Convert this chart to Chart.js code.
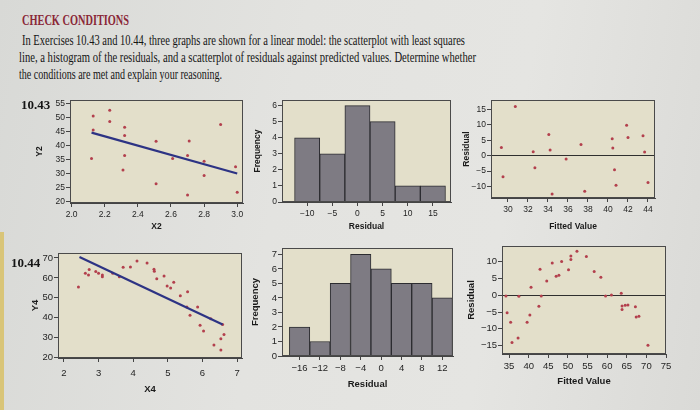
<!DOCTYPE html>
<html lang="en">
<head>
<meta charset="UTF-8">
<title>Check conditions</title>
<script src="https://cdn.jsdelivr.net/npm/chart.js"></script>
<style>
  html, body { margin: 0; padding: 0; }
  body {
    width: 700px; height: 410px; overflow: hidden; position: relative;
    background: linear-gradient(100deg, #d8d9d6 0%, #e3e3e0 40%, #e5e5e2 70%, #dadad7 100%);
    font-family: "Liberation Serif", serif; color: #151515;
  }
  .borda { position: absolute; left: 0; top: 232px; width: 4px; height: 178px; background: #d9c578; }
  .txt { position: absolute; white-space: nowrap; transform-origin: 0 50%; line-height: 1; }
  .cab { color: #8a2737; font-weight: bold; font-size: 14px; }
  .par { font-size: 14.5px; }
  .num { position: absolute; font-weight: bold; font-size: 13px; line-height: 1; white-space: nowrap; }
  .caixa { position: absolute; }
</style>
</head>
<body>
<div class="borda"></div>

<div class="txt cab" data-w="107" style="left:22px; top:13.5px;">CHECK CONDITIONS</div>
<div class="txt par" data-w="443" style="left:22px; top:33px;">In Exercises 10.43 and 10.44, three graphs are shown for a linear model: the scatterplot with least squares</div>
<div class="txt par" data-w="457" style="left:19px; top:50.25px;">line, a histogram of the residuals, and a scatterplot of residuals against predicted values. Determine whether</div>
<div class="txt par" data-w="203" style="left:19px; top:67px;">the conditions are met and explain your reasoning.</div>

<div class="caixa" id="b1"><canvas id="c1"></canvas></div>
<div class="caixa" id="b2"><canvas id="c2"></canvas></div>
<div class="caixa" id="b3"><canvas id="c3"></canvas></div>
<div class="caixa" id="b4"><canvas id="c4"></canvas></div>
<div class="caixa" id="b5"><canvas id="c5"></canvas></div>
<div class="caixa" id="b6"><canvas id="c6"></canvas></div>

<div class="num" style="left:21px; top:97.5px;">10.43</div>
<div class="num" style="left:11px; top:255.5px;">10.44</div>

<script>
    // ---- 10.43 ----
    var x2 = [2.12, 2.13, 2.13, 2.23, 2.23, 2.32, 2.32, 2.32, 2.31, 2.51, 2.51, 2.61, 2.71, 2.70, 2.70, 2.80, 2.80, 2.90, 2.99, 3.00];
    var y2 = [35.4, 50.5, 45.5, 52.6, 48.6, 46.5, 43.6, 36.5, 31.3, 41.5, 26.4, 35.4, 41.6, 36.5, 22.4, 34.4, 29.4, 47.5, 32.5, 23.4];
    var retaX2 = [2.12, 3.00];
    var retaY2 = [44.6, 30.1];

    var classes1 = [-10, -5, 0, 5, 10, 15];
    var freq1 = [4, 3, 6, 5, 1, 1];

    var ajustado1 = [29.34, 29.5, 30.73, 32.52, 32.69, 34.08, 34.21, 34.41, 35.81, 37.3, 37.67, 40.42, 40.48, 40.65, 40.8, 41.86, 42.0, 43.5, 43.66, 44.0];
    var residuo1 = [2.6, -6.8, 15.9, 1.3, -3.9, 6.8, 1.8, -12.4, -1.1, 3.6, -11.5, 5.5, 2.5, -4.6, -9.6, 9.8, 5.9, 6.4, 1.2, -8.7];

    // ---- 10.44 ----
    var x4 = [2.42, 2.62, 2.71, 2.73, 2.92, 3.00, 3.11, 3.11, 3.41, 3.60, 3.71, 3.92, 4.11, 4.40, 4.60, 4.61, 4.68, 4.89,
              4.98, 5.08, 5.17, 5.36, 5.57, 5.55, 5.86, 5.64, 6.24, 5.93, 6.03, 6.58, 6.62, 6.53, 6.33, 6.53];
    var y4 = [55.4, 62.3, 61.4, 64.2, 63.2, 62.3, 61.4, 60.6, 62.3, 60.6, 65.4, 65.5, 68.5, 67.5, 64.4, 63.4, 59.6, 60.9,
              55.9, 54.9, 57.8, 51.1, 53.1, 45.4, 45.4, 41.2, 39.5, 36.2, 33.4, 36.6, 31.6, 29.5, 26.3, 23.8];
    var retaX4 = [2.45, 6.58];
    var retaY4 = [70.5, 36.6];

    var classes2 = [-16, -12, -8, -4, 0, 4, 8, 12];
    var freq2 = [2, 1, 5, 7, 6, 5, 5, 4];

    var ajustado2 = [52.3, 50.75, 50.75, 48.4, 46.0, 42.9, 50.15, 47.7, 47.0, 44.6, 40.6, 34.2, 37.5, 43.2, 42.6, 34.5, 40.3, 35.4,
                     39.6, 37.3, 35.75, 54.7, 56.7, 58.4, 59.6, 61.1, 63.6, 63.8, 63.8, 64.6, 65.3, 67.2, 67.4, 68.1, 70.4];
    var residuo2 = [13.1, 11.7, 10.7, 10.1, 9.6, 7.8, 7.6, 6.0, 5.7, 4.3, 2.4, -0.2, -0.3, -0.2, -3.3, -5.2, -5.9, -8.0,
                    -8.0, -12.7, -14.1, 11.6, 7.1, 5.4, -0.2, 0.1, 0.6, -3.2, -4.2, -3.0, -2.9, -3.4, -6.5, -6.25, -14.9];

    // rótulos dos eixos
    var ticksX2 = [2.0, 2.2, 2.4, 2.6, 2.8, 3.0];
    var ticksY2 = [20, 25, 30, 35, 40, 45, 50, 55];
    var ticksRes1 = [-10, -5, 0, 5, 10, 15];
    var ticksFreq1 = [0, 1, 2, 3, 4, 5, 6];
    var ticksAjust1 = [30, 32, 34, 36, 38, 40, 42, 44];
    var ticksX4 = [2, 3, 4, 5, 6, 7];
    var ticksY4 = [20, 30, 40, 50, 60, 70];
    var ticksRes2 = [-16, -12, -8, -4, 0, 4, 8, 12];
    var ticksFreq2 = [0, 1, 2, 3, 4, 5, 6, 7];
    var ticksAjust2 = [35, 40, 45, 50, 55, 60, 65, 70, 75];
    var ticksResid2 = [-15, -10, -5, 0, 5, 10];

    const PAD_T = 7, PAD_R = 9;
    const corPonto = '#b3404d';
    const corReta = '#2d3384';

    function pares(xs, ys) {
        return xs.map(function (v, i) { return { x: v, y: ys[i] }; });
    }

    function menos(v) {
        return String(v).replace('-', '\u2212');
    }

    // fundo bege e moldura da área do gráfico
    const moldura = {
        id: 'moldura',
        beforeDraw(chart) {
            const a = chart.chartArea, c = chart.ctx;
            c.save();
            c.fillStyle = '#e3dfca';
            c.fillRect(a.left, a.top, a.right - a.left, a.bottom - a.top);
            c.restore();
        },
        afterDraw(chart) {
            const a = chart.chartArea, c = chart.ctx;
            c.save();
            c.strokeStyle = '#4a4a4a';
            c.lineWidth = 1;
            c.strokeRect(a.left + 0.5, a.top + 0.5, a.right - a.left - 1, a.bottom - a.top - 1);
            c.restore();
        }
    };

    function eixo(o) {
        return {
            type: 'linear',
            min: o.min, max: o.max, offset: false,
            afterBuildTicks: function (s) { s.ticks = o.ticks.map(function (v) { return { value: v }; }); },
            afterFit: function (s) {
                if (s.isHorizontal()) s.height = o.tam; else s.width = o.tam;
            },
            ticks: {
                color: '#1f1f1f', autoSkip: false, maxRotation: 0, padding: o.pad,
                font: { family: 'Liberation Sans', size: o.fonte },
                callback: o.fmt || function (v) { return menos(v); }
            },
            grid: {
                offset: false, tickLength: 4, tickColor: '#444',
                drawOnChartArea: !!o.zero,
                color: o.zero ? function (ctx) { return ctx.tick && ctx.tick.value === 0 ? '#2f2f2f' : 'rgba(0,0,0,0)'; } : '#444'
            },
            border: { color: '#444' },
            title: {
                display: true, text: o.titulo, color: '#1a1a1a', padding: 0,
                font: { family: 'Liberation Sans', size: o.fonte, weight: 'bold' }
            }
        };
    }

    function painel(n, area, tipo, datasets, eixoX, eixoY) {
        const caixa = document.getElementById('b' + n);
        caixa.style.left = (area.l - eixoY.tam) + 'px';
        caixa.style.top = (area.t - PAD_T) + 'px';
        caixa.style.width = (area.r - area.l + eixoY.tam + PAD_R) + 'px';
        caixa.style.height = (area.b - area.t + eixoX.tam + PAD_T) + 'px';

        new Chart(document.getElementById('c' + n), {
            type: tipo,
            data: { datasets: datasets },
            options: {
                responsive: true, maintainAspectRatio: false, animation: false,
                layout: { padding: { top: PAD_T, right: PAD_R, left: 0, bottom: 0 } },
                plugins: { legend: { display: false }, tooltip: { enabled: false } },
                scales: { x: eixo(eixoX), y: eixo(eixoY) }
            },
            plugins: [moldura]
        });
    }

    function pontos(xs, ys) {
        return { data: pares(xs, ys), backgroundColor: corPonto, borderWidth: 0, pointRadius: 1.5 };
    }

    function reta(xs, ys) {
        return { data: pares(xs, ys), showLine: true, borderColor: corReta, borderWidth: 2.2, pointRadius: 0 };
    }

    function barras(cls, fr) {
        return {
            data: pares(cls, fr), backgroundColor: '#7e7b83', borderColor: '#2c2c30', borderWidth: 1,
            barPercentage: 1, categoryPercentage: 1
        };
    }

    // 10.43
    painel(1, { l: 70, t: 100, r: 243, b: 203 }, 'scatter', [reta(retaX2, retaY2), pontos(x2, y2)],
        { min: 1.99, max: 3.035, ticks: ticksX2, tam: 29, pad: 3, fonte: 8.5, titulo: 'X2', fmt: function (v) { return v.toFixed(1); } },
        { min: 19.6, max: 56.2, ticks: ticksY2, tam: 35, pad: 1, fonte: 8.5, titulo: 'Y2' });

    painel(2, { l: 282, t: 100, r: 451, b: 202 }, 'bar', [barras(classes1, freq1)],
        { min: -15, max: 18.6, ticks: ticksRes1, tam: 30, pad: 3, fonte: 8.5, titulo: 'Residual' },
        { min: 0, max: 6.35, ticks: ticksFreq1, tam: 29, pad: 1, fonte: 8.5, titulo: 'Frequency' });

    painel(3, { l: 491, t: 100, r: 655, b: 198 }, 'scatter', [pontos(ajustado1, residuo1)],
        { min: 28.3, max: 44.7, ticks: ticksAjust1, tam: 34, pad: 3, fonte: 8.5, titulo: 'Fitted Value' },
        { min: -13.7, max: 18, ticks: ticksRes1, tam: 29, pad: 1, fonte: 8.5, titulo: 'Residual', zero: true });

    // 10.44
    painel(4, { l: 58, t: 253, r: 242, b: 358 }, 'scatter', [reta(retaX4, retaY4), pontos(x4, y4)],
        { min: 1.83, max: 7.14, ticks: ticksX4, tam: 37, pad: 6, fonte: 9.5, titulo: 'X4' },
        { min: 19.8, max: 72.5, ticks: ticksY4, tam: 28, pad: 1, fonte: 9.5, titulo: 'Y4' });

    painel(5, { l: 282, t: 248, r: 453, b: 356 }, 'bar', [barras(classes2, freq2)],
        { min: -19.45, max: 14.1, ticks: ticksRes2, tam: 34, pad: 3, fonte: 9.5, titulo: 'Residual' },
        { min: 0, max: 7.44, ticks: ticksFreq2, tam: 32, pad: 1, fonte: 9.5, titulo: 'Frequency' });

    painel(6, { l: 502, t: 246, r: 666, b: 354 }, 'scatter', [pontos(ajustado2, residuo2)],
        { min: 33.2, max: 75, ticks: ticksAjust2, tam: 33, pad: 3, fonte: 9.5, titulo: 'Fitted Value' },
        { min: -17.5, max: 14.7, ticks: ticksResid2, tam: 36, pad: 1, fonte: 9.5, titulo: 'Residual', zero: true });

    // ajusta a largura das linhas de texto à largura do original
    document.querySelectorAll('.txt').forEach(function (el) {
        var alvo = Number(el.dataset.w);
        el.style.transform = 'scaleX(' + (alvo / el.offsetWidth) + ')';
    });
</script>
</body>
</html>
